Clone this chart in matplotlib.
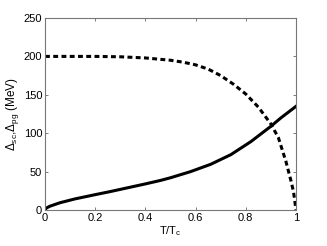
import matplotlib
matplotlib.use("Agg")
import matplotlib.pyplot as plt

T_sc = [0, 0.005, 0.02, 0.06, 0.12, 0.2, 0.26, 0.33, 0.4, 0.46, 0.5, 0.58, 0.66, 0.74, 0.82, 0.9, 0.94, 1.0]
D_sc = [0, 2.5, 5, 9.5, 14.5, 20, 24, 29, 34, 38.5, 42, 50, 59.5, 72, 89, 109, 120, 135]

T_pg = [0, 0.1, 0.2, 0.3, 0.4, 0.5, 0.55, 0.6, 0.65, 0.7, 0.75, 0.8, 0.85, 0.9, 0.93, 0.96, 0.98, 0.99, 1.0]
D_pg = [200, 200, 200, 199.5, 198, 195, 192.5, 189, 183.5, 175, 164, 151, 134, 112, 94, 63, 38, 24, 0]

xticks = [0, 0.2, 0.4, 0.6, 0.8, 1]
xticklabels = ["0", "0.2", "0.4", "0.6", "0.8", "1"]
yticks = [0, 50, 100, 150, 200, 250]

plt.rcParams['font.family'] = ['Liberation Sans', 'DejaVu Sans']
plt.rcParams['mathtext.fontset'] = 'custom'
plt.rcParams['mathtext.rm'] = 'Liberation Sans'
plt.rcParams['mathtext.it'] = 'Liberation Sans:italic'
plt.rcParams['mathtext.bf'] = 'Liberation Sans:bold'

fig = plt.figure(figsize=(3.27, 2.46), dpi=100)
ax = fig.add_axes([0.1376, 0.1463, 0.7676, 0.7805])
ax.plot(T_sc, D_sc, color='black', lw=2.2, solid_joinstyle='round')
ax.plot(T_pg, D_pg, color='black', lw=2.2, linestyle=(0, (1.6, 1.1)))
ax.set_xlim(0, 1)
ax.set_ylim(0, 250)
ax.set_xticks(xticks)
ax.set_xticklabels(xticklabels)
ax.set_yticks(yticks)
ax.tick_params(direction='in', top=True, right=True, labelsize=8, length=2.5, width=0.6, color='#666666', pad=2)
for s in ax.spines.values():
    s.set_color('#777777')
    s.set_linewidth(0.8)
ax.set_xlabel(r'T/T$_{\mathrm{c}}$', fontsize=8, labelpad=1)
ax.set_ylabel(r'$\Delta_{\mathrm{sc}}$,$\Delta_{\mathrm{pg}}$ (MeV)', fontsize=8.5, labelpad=2)
fig.savefig('out.png', dpi=100)
